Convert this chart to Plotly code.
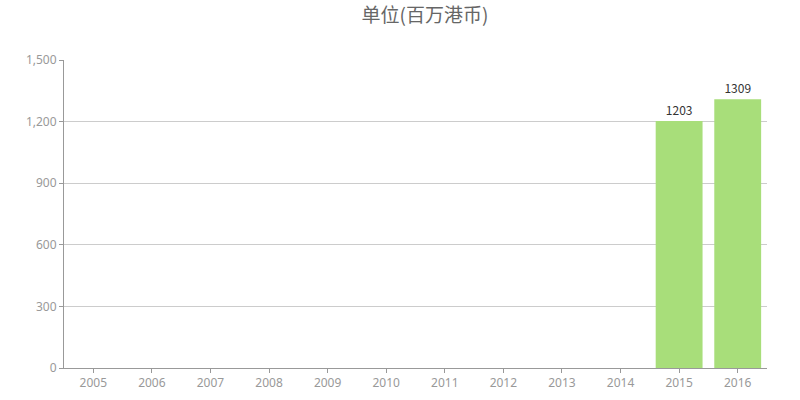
import plotly.graph_objects as go

years = ["2005", "2006", "2007", "2008", "2009", "2010", "2011", "2012", "2013", "2014", "2015", "2016"]
values = [None, None, None, None, None, None, None, None, None, None, 1203, 1309]
y_ticks = [0, 300, 600, 900, 1200, 1500]
y_tick_text = ["0", "300", "600", "900", "1,200", "1,500"]

W, H = 800, 400

fig = go.Figure()
fig.add_trace(go.Bar(
    x=years, y=values,
    marker=dict(color="#a8de7a", line=dict(width=0)),
    text=[("" if v is None else str(v)) for v in values],
    textposition="outside",
    textfont=dict(size=12, color="#333", family="Noto Sans CJK SC, Noto Sans, sans-serif"),
    cliponaxis=False,
    hoverinfo="x+y",
))

fig.update_layout(
    width=W, height=H,
    margin=dict(l=64, r=33, t=60, b=32),
    paper_bgcolor="white", plot_bgcolor="white",
    bargap=0.2,
    showlegend=False,
    title=dict(text="单位(百万港币)", x=425 / W, xanchor="center", y=1 - 15 / H, yanchor="middle",
               font=dict(size=19, color="#666", family="Noto Sans CJK SC, sans-serif")),
    font=dict(family="Noto Sans, sans-serif", size=12, color="#999"),
)
fig.update_xaxes(
    type="category", showgrid=False, showline=True, linecolor="#999", linewidth=1,
    ticks="outside", ticklen=4, tickcolor="#999", tickfont=dict(size=12, color="#999"),
    automargin=False,
)
fig.update_yaxes(
    range=[0, 1500], tickvals=y_ticks, ticktext=y_tick_text,
    showgrid=True, gridcolor="#ccc", gridwidth=1, zeroline=False,
    showline=True, linecolor="#999", linewidth=1,
    ticks="outside", ticklen=4, tickcolor="#999", tickfont=dict(size=12, color="#999"),
    automargin=False,
)

fig.write_html("out.html", config={"displayModeBar": False},
               post_script="document.body.style.margin='0';")
